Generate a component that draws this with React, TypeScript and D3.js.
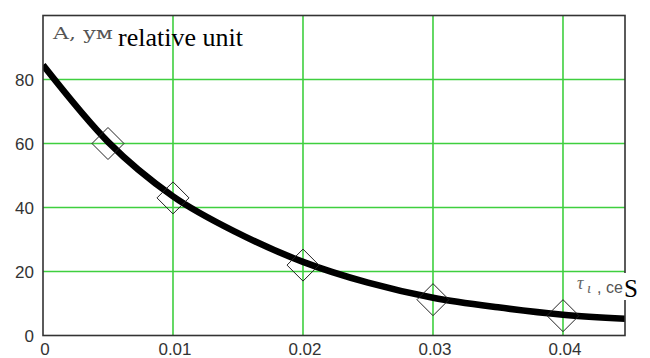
import React from "react";
import * as d3 from "d3";

const xTicks = [0, 0.01, 0.02, 0.03, 0.04];
const xTickLabels = ["0", "0.01", "0.02", "0.03", "0.04"];
const yTicks = [0, 20, 40, 60, 80];
const yTickLabels = ["0", "20", "40", "60", "80"];

const markerT = [0.005, 0.01, 0.02, 0.03, 0.04];
const markerA = [60, 43, 22, 11.2, 6.2];

const curveT = [0, 0.005, 0.01, 0.015, 0.02, 0.025, 0.03, 0.035, 0.04, 0.0448];
const curveA = [84.5, 60.5, 43.5, 32, 23, 16.5, 11.8, 8.8, 6.5, 5.2];

const W = 650;
const H = 358;
const left = 43;
const right = 625;
const top = 15.5;
const bottom = 335.5;

export default function App() {
  const x = d3.scaleLinear().domain([0, 0.04477]).range([left, right]);
  const y = d3.scaleLinear().domain([0, 100]).range([bottom, top]);
  const line = d3
    .line<number>()
    .x((_, i) => x(curveT[i]))
    .y((d) => y(d))
    .curve(d3.curveMonotoneX);
  const grid = "#3fcf3f";
  const diamond = (cx: number, cy: number, r: number) =>
    `M${cx},${cy - r}L${cx + r},${cy}L${cx},${cy + r}L${cx - r},${cy}Z`;

  return (
    <svg
      width={W}
      height={H}
      style={{ position: "absolute", left: 0, top: 0, display: "block", background: "#fff" }}
    >
      <rect x={left} y={top} width={right - left} height={bottom - top} fill="#fff" />
      {xTicks.slice(1).map((t) => (
        <line key={"gx" + t} x1={x(t)} x2={x(t)} y1={top} y2={bottom} stroke={grid} strokeWidth={1.6} />
      ))}
      {yTicks.slice(1).map((v) => (
        <line key={"gy" + v} x1={left} x2={right} y1={y(v)} y2={y(v)} stroke={grid} strokeWidth={1.6} />
      ))}
      <defs>
        <clipPath id="plotclip">
          <rect x={left} y={top} width={right - left} height={bottom - top} />
        </clipPath>
      </defs>
      <g clipPath="url(#plotclip)">
        <path d={line(curveA) || ""} fill="none" stroke="#000" strokeWidth={6.5} />
      </g>
      {markerT.map((t, i) => (
        <path
          key={"m" + t}
          d={diamond(x(t), y(markerA[i]), 16)}
          fill="none"
          stroke="#222"
          strokeWidth={1}
        />
      ))}
      <rect
        x={left}
        y={top}
        width={right - left}
        height={bottom - top}
        fill="none"
        stroke="#333"
        strokeWidth={1.6}
      />
      {/* axis labels */}
      <text
        x={53}
        y={39}
        fontFamily="'DejaVu Serif', serif"
        fontSize={17}
        fill="#555"
        textLength={60}
        lengthAdjust="spacingAndGlyphs"
      >
        A, ум
      </text>
      <text x={118} y={46} fontFamily="'Liberation Serif', 'Times New Roman', serif" fontSize={26} fill="#000">
        relative unit
      </text>
      <rect x={575} y={273} width={75} height={27} fill="#fff" />
      <text x={577} y={289} fontFamily="'Liberation Serif', serif" fontStyle="italic" fontSize={18} fill="#666">
        τ
      </text>
      <text x={587} y={293} fontFamily="'Liberation Serif', serif" fontStyle="italic" fontSize={15} fill="#666">
        ι
      </text>
      <text x={597} y={293} fontFamily="'Liberation Sans', sans-serif" fontSize={16} fill="#555">
        , ce
      </text>
      <text x={624} y={297} fontFamily="'Liberation Serif', 'Times New Roman', serif" fontSize={25} fill="#000">
        S
      </text>
      {/* tick labels */}
      {yTicks.map((v, i) => (
        <text
          key={"yl" + v}
          x={34}
          y={y(v) + 6}
          textAnchor="end"
          fontFamily="'Liberation Sans', sans-serif"
          fontSize={17}
          fill="#333"
        >
          {yTickLabels[i]}
        </text>
      ))}
      {xTicks.map((t, i) => (
        <text
          key={"xl" + t}
          x={x(t) + 2}
          y={355}
          textAnchor="middle"
          fontFamily="'Liberation Sans', sans-serif"
          fontSize={17}
          fill="#333"
        >
          {xTickLabels[i]}
        </text>
      ))}
    </svg>
  );
}
